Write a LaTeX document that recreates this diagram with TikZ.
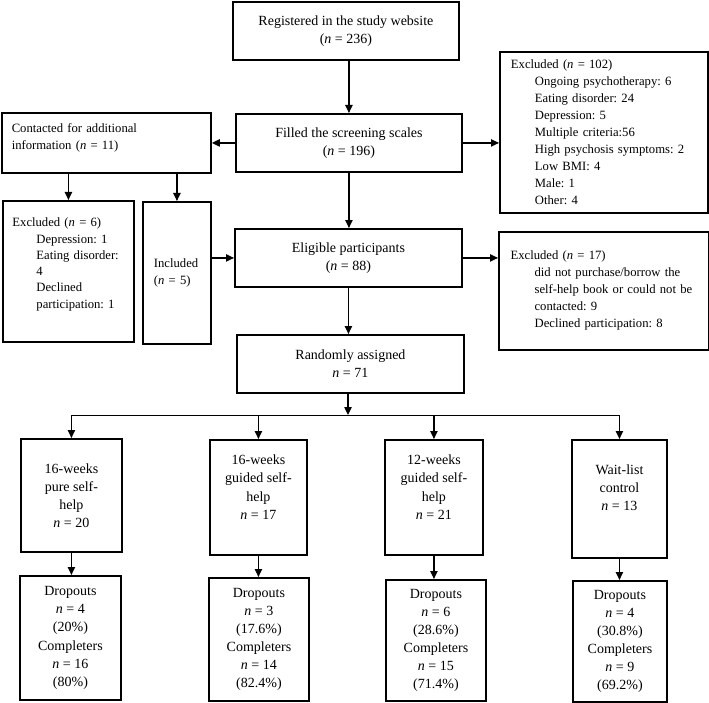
\documentclass[tikz,border=0pt]{standalone}
\usepackage{fontspec}
\setmainfont{Liberation Serif}
\usetikzlibrary{arrows.meta}

\tikzset{every picture/.style={line width=0.75pt}}
\tikzset{
  box/.style={draw, line width=1.4pt, inner sep=0pt, anchor=north west, font=\fontsize{10.5}{13.6}\selectfont},
  boxsize/.style 2 args={minimum width=#1*0.75pt, minimum height=#2*0.75pt},
  groupbox/.style={box, align=center},
  listbox/.style={box, align=left, font=\fontsize{9.5}{12.75}\selectfont\frenchspacing},
  arr/.style={-{Triangle[length=6pt,width=5.5pt]}, line width=1pt}
}
\newcommand{\ind}{\makebox[18pt]{}}
\newcommand{\lift}[1]{\rule[-#1]{0pt}{0pt}}

\begin{document}
\begin{tikzpicture}[x=0.75pt,y=0.75pt,yscale=-1,xscale=1]
\useasboundingbox (0,0) rectangle (709,702); %set diagram size to 709 x 702

%Shape: Rectangle [id:reg]
\node[groupbox, boxsize={226}{58}] (reg) at (232,1) {Registered in the study website\\(\textit{n} = 236)};
%Shape: Rectangle [id:fill]
\node[groupbox, boxsize={226}{58}] (fill) at (235,113) {Filled the screening scales\\(\textit{n} = 196)};
%Shape: Rectangle [id:contact]
\node[listbox, text width=142pt, boxsize={209}{60}] (contact) at (1,112) {Contacted for additional\\information (\textit{n} = 11)\lift{10pt}};
%Shape: Rectangle [id:excla]
\node[listbox, text width=139.5pt, boxsize={208}{161}] (excla) at (499,51) {Excluded (\textit{n} = 102)\\
  \ind Ongoing psychotherapy: 6\\
  \ind Eating disorder: 24\\
  \ind Depression: 5\\
  \ind Multiple criteria:56\\
  \ind High psychosis symptoms: 2\\
  \ind Low BMI: 4\\
  \ind Male: 1\\
  \ind Other: 4};
%Shape: Rectangle [id:exclb]
\node[listbox, text width=84pt, boxsize={131}{141}, font=\fontsize{9.5}{12.2}\selectfont\frenchspacing] (exclb) at (2,200) {\begin{tabular}[t]{@{}l@{}}Excluded (\textit{n} = 6)\\
  \ind Depression: 1\\
  \ind Eating disorder:\\
  \ind 4\\
  \ind Declined\\
  \ind participation: 1\lift{14.5pt}\end{tabular}};
%Shape: Rectangle [id:incl]
\node[listbox, text width=34.5pt, boxsize={68}{142}] (incl) at (142,201) {Included\\(\textit{n} = 5)};
%Shape: Rectangle [id:elig]
\node[groupbox, boxsize={227}{58}] (elig) at (234,228) {Eligible participants\\(\textit{n} = 88)};
%Shape: Rectangle [id:exclc]
\node[listbox, text width=140pt, boxsize={210}{118}] (exclc) at (498,231) {Excluded (\textit{n} = 17)\\
  \ind did not purchase/borrow the\\
  \ind self-help book or could not be\\
  \ind contacted: 9\\
  \ind Declined participation: 8};
%Shape: Rectangle [id:rand]
\node[groupbox, boxsize={227}{58}] (rand) at (236,334) {Randomly assigned\\\textit{n} = 71};

%Shape: Rectangle [id:groups]
\node[groupbox, boxsize={101}{113}] (ga) at (20,438) {16-weeks\\pure self-\\help\\\textit{n} = 20};
\node[groupbox, boxsize={97}{115}] (gb) at (209,439) {16-weeks\\guided self-\\help\\\textit{n} = 17\lift{15.5pt}};
\node[groupbox, boxsize={98}{115}] (gc) at (384,439) {12-weeks\\guided self-\\help\\\textit{n} = 21\lift{15.5pt}};
\node[groupbox, boxsize={95}{118}] (gd) at (571,439) {Wait-list\\control\\\textit{n} = 13\lift{16.5pt}};

%Shape: Rectangle [id:outcomes]
\node[groupbox, boxsize={101}{124}] (da) at (19,575) {Dropouts\\\textit{n} = 4\\(20\%)\\Completers\\\textit{n} = 16\\(80\%)};
\node[groupbox, boxsize={100}{123}] (db) at (208,577) {Dropouts\\\textit{n} = 3\\(17.6\%)\\Completers\\\textit{n} = 14\\(82.4\%)};
\node[groupbox, boxsize={100}{121}] (dc) at (385,579) {Dropouts\\\textit{n} = 6\\(28.6\%)\\Completers\\\textit{n} = 15\\(71.4\%)};
\node[groupbox, boxsize={94}{121}] (dd) at (572,580) {Dropouts\\\textit{n} = 4\\(30.8\%)\\Completers\\\textit{n} = 9\\(69.2\%)};

%Straight Lines [id:screening]
\draw[arr] (reg.south -| fill.north) -- (fill.north);
\draw[arr] (fill.west) -- (contact.east);
\draw[arr] (fill.east) -- (excla.west |- fill.east);
%Straight Lines [id:contacted]
\draw[arr] (contact.south -| exclb.north) -- (exclb.north);
\draw[arr] (contact.south -| incl.north) -- (incl.north);
\draw[arr] (elig.west -| incl.east) -- (elig.west);
%Straight Lines [id:eligible]
\draw[arr] (fill.south) -- (fill.south |- elig.north);
\draw[arr] (elig.east) -- (elig.east -| exclc.west);
\draw[arr] (elig.south) -- (elig.south |- rand.north);

%Straight Lines [id:split]
\coordinate (split) at (348,415);
\draw[arr] (rand.south -| split) -- (split);
\draw (split -| ga.north) -- (split -| gd.north);
\foreach \g in {ga,gb,gc,gd}
  \draw[arr] (split -| \g.north) -- (\g.north);

%Straight Lines [id:outcomes]
\draw[arr] (ga.south) -- (ga.south |- da.north);
\draw[arr] (gb.south) -- (gb.south |- db.north);
\draw[arr] (gc.south) -- (gc.south |- dc.north);
\draw[arr] (gd.south) -- (gd.south |- dd.north);

\end{tikzpicture}
\end{document}
